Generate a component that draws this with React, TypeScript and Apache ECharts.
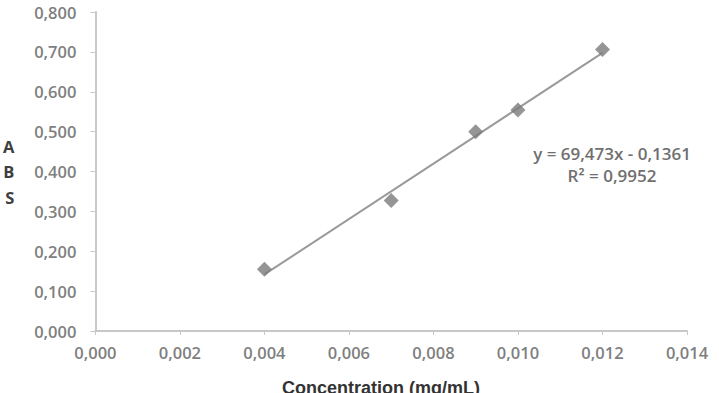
import React, { useEffect, useRef } from "react";
import * as echarts from "echarts";

const concentrations = [0.004, 0.007, 0.009, 0.010, 0.012];
const absorbances = [0.155, 0.327, 0.500, 0.554, 0.706];
const slope = 69.473;
const intercept = -0.1361;
const equationText = "y = 69,473x - 0,1361";
const r2Text = "R² = 0,9952";
const xAxisTitle = "Concentration (mg/mL)";
const yAxisTitle = "A\nB\nS";

const fmt = (v: number) => v.toFixed(3).replace(".", ",");

export default function App() {
  const ref = useRef<HTMLDivElement>(null);
  useEffect(() => {
    if (!ref.current) return;
    const chart = echarts.init(ref.current, undefined, { renderer: "svg" });
    const xs = [concentrations[0], concentrations[concentrations.length - 1]];
    const trend = xs.map((x) => [x, slope * x + intercept]);
    const labelStyle = {
      color: "#7f7f7f",
      fontFamily: "Open Sans",
      fontSize: 16.5,
      fontWeight: 600 as any,
    };
    chart.setOption({
      animation: false,
      backgroundColor: "#ffffff",
      grid: { left: 92, top: 12, right: 32, bottom: 62 },
      xAxis: {
        type: "value",
        min: 0,
        max: 0.014,
        interval: 0.002,
        axisLine: { show: true, lineStyle: { color: "#c8c8c8", width: 2 } },
        axisTick: { show: true, length: 4, lineStyle: { color: "#c8c8c8", width: 1 } },
        splitLine: { show: false },
        axisLabel: { ...labelStyle, margin: 13, formatter: fmt },
      },
      yAxis: {
        type: "value",
        min: 0,
        max: 0.8,
        interval: 0.1,
        name: yAxisTitle,
        nameLocation: "middle",
        nameRotate: 0,
        nameGap: 81,
        nameTextStyle: {
          color: "#404040",
          fontFamily: "Open Sans",
          fontWeight: "bold",
          fontSize: 16.5,
          lineHeight: 25.5,
        },
        axisLine: { show: true, lineStyle: { color: "#c8c8c8", width: 2 } },
        axisTick: { show: true, length: 5, lineStyle: { color: "#c8c8c8", width: 1 } },
        splitLine: { show: false },
        axisLabel: { ...labelStyle, margin: 19, formatter: fmt },
      },
      graphic: [
        {
          type: "text",
          x: 612,
          y: 153,
          style: {
            text: equationText,
            fill: "#6f6f6f",
            font: "600 17px 'Open Sans'",
            align: "center",
            verticalAlign: "middle",
          },
        },
        {
          type: "text",
          x: 612,
          y: 175,
          style: {
            text: r2Text,
            fill: "#6f6f6f",
            font: "600 17px 'Open Sans'",
            align: "center",
            verticalAlign: "middle",
          },
        },
        {
          type: "text",
          x: 381,
          y: 379,
          style: {
            text: xAxisTitle,
            fill: "#333333",
            font: "bold 18px 'Liberation Sans'",
            align: "center",
            verticalAlign: "top",
          },
        },
      ],
      series: [
        {
          type: "line",
          data: trend,
          symbol: "none",
          lineStyle: { color: "#9a9a9a", width: 2 },
          z: 1,
        },
        {
          type: "scatter",
          data: concentrations.map((c, i) => [c, absorbances[i]]),
          symbol: "diamond",
          symbolSize: 15,
          itemStyle: { color: "#7a7a7a" },
          z: 2,
        },
      ],
    });
    return () => chart.dispose();
  }, []);
  return (
    <div
      ref={ref}
      style={{ position: "fixed", left: 0, top: 0, width: 719, height: 393 }}
    />
  );
}
